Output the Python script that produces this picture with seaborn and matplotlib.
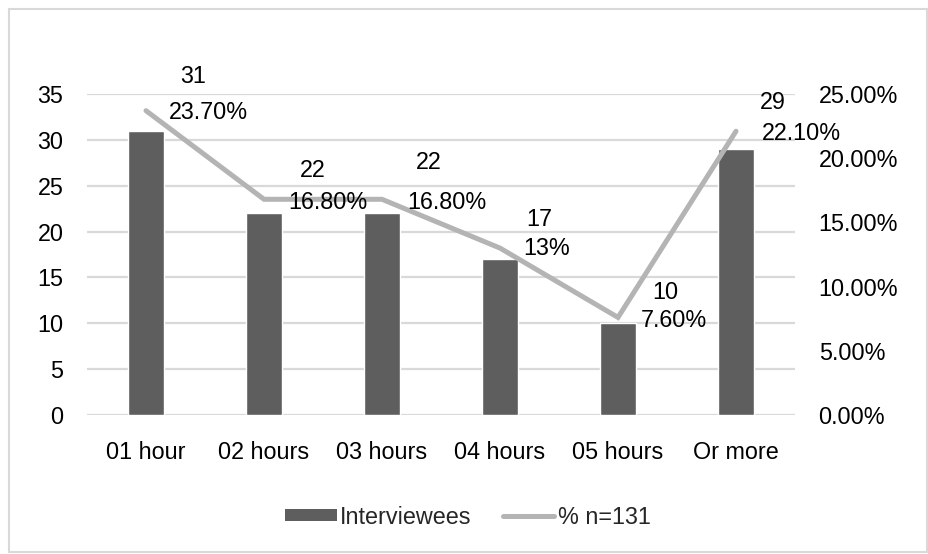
import numpy as np
import pandas as pd
import matplotlib
matplotlib.use("Agg")
import matplotlib.pyplot as plt
import seaborn as sns
from matplotlib.patches import Rectangle
from matplotlib.lines import Line2D

# Data
categories = ["01 hour", "02 hours", "03 hours", "04 hours", "05 hours", "Or more"]
interviewees = [31, 22, 22, 17, 10, 29]
percent = [23.70, 16.80, 16.80, 13.0, 7.60, 22.10]
percent_labels = ["23.70%", "16.80%", "16.80%", "13%", "7.60%", "22.10%"]
left_ticks = [0, 5, 10, 15, 20, 25, 30, 35]
right_ticks = [0, 5, 10, 15, 20, 25]

sns.set_theme(style="white")
plt.rcParams["font.family"] = ["Liberation Sans", "DejaVu Sans"]

BAR = "#5e5e5e"
LINE = "#b4b4b4"
GRID = "#d9d9d9"
FS = 16.8

fig = plt.figure(figsize=(9.29, 5.54), dpi=100)
ax = fig.add_axes([87 / 929, 1 - 415 / 554, (795 - 87) / 929, (415 - 94) / 554])

df = pd.DataFrame({"category": categories, "count": interviewees, "pct": percent,
                   "pos": np.arange(len(categories))})

sns.barplot(data=df, x="category", y="count", color=BAR, width=0.31,
            saturation=1, ax=ax, zorder=2)
ax.set_ylim(0, 35)
ax.set_xlim(-0.5, len(categories) - 0.5)
ax.set_yticks(left_ticks)
ax.yaxis.grid(True, color=GRID, linewidth=1.6, zorder=0)
ax.set_axisbelow(True)
ax.tick_params(axis="y", labelsize=FS, pad=17, length=0, colors="#000000")
ax.tick_params(axis="x", labelsize=FS, pad=19, length=0, colors="#000000")
ax.set_xlabel("")
ax.set_ylabel("")
for s in ax.spines.values():
    s.set_visible(False)

ax2 = ax.twinx()
sns.lineplot(data=df, x="pos", y="pct", color=LINE, linewidth=3.6, ax=ax2,
             solid_capstyle="round", solid_joinstyle="miter", zorder=3)
ax2.set_ylim(0, 25)
ax2.set_yticks(right_ticks)
ax2.set_yticklabels([f"{t:.2f}%" for t in right_ticks])
ax2.tick_params(axis="y", labelsize=FS, pad=17, length=0, colors="#000000")
ax2.set_ylabel("")
ax2.set_xlabel("")
ax2.grid(False)
for s in ax2.spines.values():
    s.set_visible(False)

# Data labels: count above, percentage beside each line point (pixel offsets)
val_off = [(47, 34), (49, 29), (47, 37), (39, 29), (47, 25), (37, 29)]
pct_off = [(62, -2), (64, -3), (65, -3), (47, 0), (56, -3), (65, -2)]
for i in range(len(categories)):
    ax2.annotate(str(interviewees[i]), (i, percent[i]), xytext=val_off[i],
                 textcoords="offset pixels", ha="center", va="center",
                 fontsize=FS, color="#000000", zorder=5)
    ax2.annotate(percent_labels[i], (i, percent[i]), xytext=pct_off[i],
                 textcoords="offset pixels", ha="center", va="center",
                 fontsize=FS, color="#000000", zorder=5)

handles = [Rectangle((0, 0), 1, 1, facecolor=BAR, edgecolor="none"),
           Line2D([], [], color=LINE, linewidth=3.6)]
fig.legend(handles, ["Interviewees", "% n=131"], loc="center",
           bbox_to_anchor=(468 / 929, 1 - 517 / 554), ncol=2, frameon=False,
           fontsize=FS, handlelength=2.2, handleheight=0.4, handletextpad=0.15,
           columnspacing=1.35)

# Chart frame
fig.patches.append(Rectangle((9 / 929, 2 / 554), 918 / 929, 543 / 554,
                             transform=fig.transFigure, fill=False,
                             edgecolor=GRID, linewidth=1.5))

fig.savefig("out.png", dpi=100)
